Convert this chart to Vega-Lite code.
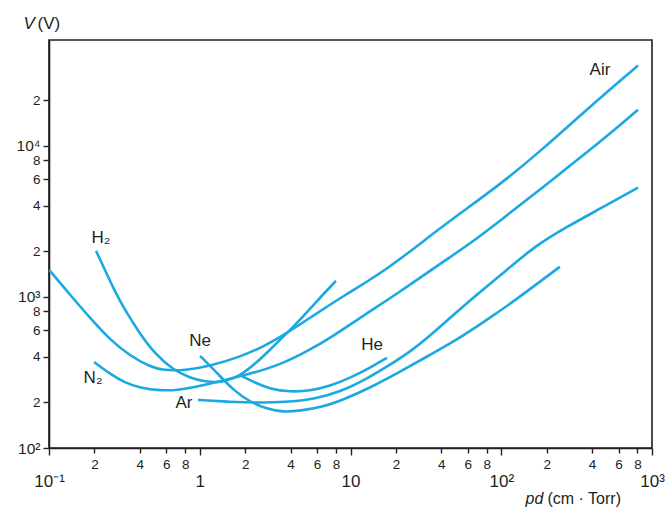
{
  "$schema": "https://vega.github.io/schema/vega-lite/v6.json",
  "width": 603,
  "height": 408,
  "autosize": "none",
  "padding": {"left": 49, "top": 40, "right": 15, "bottom": 59},
  "config": {
    "font": "Liberation Sans",
    "view": {"stroke": "#231f20", "strokeWidth": 1.6},
    "axis": {
      "grid": false,
      "domainColor": "#231f20",
      "domainWidth": 1.6,
      "tickColor": "#231f20",
      "tickWidth": 1.4,
      "labelColor": "#231f20",
      "titleColor": "#231f20",
      "titleFontWeight": "normal",
      "labelFlush": false,
      "labelOverlap": false,
      "labelBound": false
    }
  },
  "datasets": {
    "curves": [
      {"gas": "Air", "pd": 0.1, "V": 1510},
      {"gas": "Air", "pd": 0.138, "V": 1031},
      {"gas": "Air", "pd": 0.187, "V": 726},
      {"gas": "Air", "pd": 0.254, "V": 519},
      {"gas": "Air", "pd": 0.345, "V": 407},
      {"gas": "Air", "pd": 0.468, "V": 345},
      {"gas": "Air", "pd": 0.571, "V": 326},
      {"gas": "Air", "pd": 0.799, "V": 326},
      {"gas": "Air", "pd": 1.17, "V": 349},
      {"gas": "Air", "pd": 1.85, "V": 400},
      {"gas": "Air", "pd": 2.71, "V": 474},
      {"gas": "Air", "pd": 3.79, "V": 577},
      {"gas": "Air", "pd": 5.39, "V": 726},
      {"gas": "Air", "pd": 9.19, "V": 1031},
      {"gas": "Air", "pd": 17.5, "V": 1510},
      {"gas": "Air", "pd": 39.3, "V": 2864},
      {"gas": "Air", "pd": 98.1, "V": 5520},
      {"gas": "Air", "pd": 180.7, "V": 9130},
      {"gas": "Air", "pd": 388, "V": 18130},
      {"gas": "Air", "pd": 807, "V": 33880},
      {"gas": "N2", "pd": 0.199, "V": 371},
      {"gas": "N2", "pd": 0.254, "V": 309},
      {"gas": "N2", "pd": 0.319, "V": 270},
      {"gas": "N2", "pd": 0.401, "V": 250},
      {"gas": "N2", "pd": 0.545, "V": 239},
      {"gas": "N2", "pd": 0.74, "V": 242},
      {"gas": "N2", "pd": 1.004, "V": 257},
      {"gas": "N2", "pd": 1.405, "V": 278},
      {"gas": "N2", "pd": 2.154, "V": 309},
      {"gas": "N2", "pd": 3.41, "V": 355},
      {"gas": "N2", "pd": 5.39, "V": 446},
      {"gas": "N2", "pd": 7.89, "V": 560},
      {"gas": "N2", "pd": 11.56, "V": 726},
      {"gas": "N2", "pd": 21.3, "V": 1079},
      {"gas": "N2", "pd": 39.3, "V": 1654},
      {"gas": "N2", "pd": 62, "V": 2244},
      {"gas": "N2", "pd": 98.1, "V": 3187},
      {"gas": "N2", "pd": 180.7, "V": 5110},
      {"gas": "N2", "pd": 333, "V": 8327},
      {"gas": "N2", "pd": 526, "V": 12010},
      {"gas": "N2", "pd": 807, "V": 17310},
      {"gas": "H2", "pd": 0.205, "V": 2017},
      {"gas": "H2", "pd": 0.235, "V": 1510},
      {"gas": "H2", "pd": 0.274, "V": 1079},
      {"gas": "H2", "pd": 0.319, "V": 820},
      {"gas": "H2", "pd": 0.401, "V": 569},
      {"gas": "H2", "pd": 0.505, "V": 419},
      {"gas": "H2", "pd": 0.665, "V": 329},
      {"gas": "H2", "pd": 0.862, "V": 291},
      {"gas": "H2", "pd": 1.083, "V": 274},
      {"gas": "H2", "pd": 1.405, "V": 270},
      {"gas": "H2", "pd": 1.849, "V": 300},
      {"gas": "H2", "pd": 2.33, "V": 360},
      {"gas": "H2", "pd": 2.92, "V": 446},
      {"gas": "H2", "pd": 3.68, "V": 560},
      {"gas": "H2", "pd": 4.62, "V": 704},
      {"gas": "H2", "pd": 6.09, "V": 955},
      {"gas": "H2", "pd": 8.01, "V": 1276},
      {"gas": "Ne", "pd": 1.004, "V": 407},
      {"gas": "Ne", "pd": 1.302, "V": 314},
      {"gas": "Ne", "pd": 1.662, "V": 242},
      {"gas": "Ne", "pd": 2.154, "V": 202},
      {"gas": "Ne", "pd": 2.79, "V": 181},
      {"gas": "Ne", "pd": 3.57, "V": 173},
      {"gas": "Ne", "pd": 4.62, "V": 176},
      {"gas": "Ne", "pd": 6.57, "V": 187},
      {"gas": "Ne", "pd": 9.19, "V": 211},
      {"gas": "Ne", "pd": 13.47, "V": 250},
      {"gas": "Ne", "pd": 21.3, "V": 319},
      {"gas": "Ne", "pd": 33.7, "V": 413},
      {"gas": "Ne", "pd": 53.3, "V": 535},
      {"gas": "Ne", "pd": 84.2, "V": 726},
      {"gas": "Ne", "pd": 133.1, "V": 1000},
      {"gas": "Ne", "pd": 195.1, "V": 1336},
      {"gas": "Ne", "pd": 245, "V": 1580},
      {"gas": "He", "pd": 1.849, "V": 304},
      {"gas": "He", "pd": 2.33, "V": 270},
      {"gas": "He", "pd": 2.92, "V": 246},
      {"gas": "He", "pd": 3.97, "V": 235},
      {"gas": "He", "pd": 5.39, "V": 239},
      {"gas": "He", "pd": 7.31, "V": 257},
      {"gas": "He", "pd": 9.92, "V": 291},
      {"gas": "He", "pd": 13.47, "V": 339},
      {"gas": "He", "pd": 17.47, "V": 395},
      {"gas": "Ar", "pd": 0.974, "V": 208},
      {"gas": "Ar", "pd": 1.587, "V": 202},
      {"gas": "Ar", "pd": 2.51, "V": 199},
      {"gas": "Ar", "pd": 3.97, "V": 202},
      {"gas": "Ar", "pd": 5.81, "V": 211},
      {"gas": "Ar", "pd": 8.52, "V": 235},
      {"gas": "Ar", "pd": 12.48, "V": 282},
      {"gas": "Ar", "pd": 18.28, "V": 355},
      {"gas": "Ar", "pd": 24.8, "V": 432},
      {"gas": "Ar", "pd": 33.7, "V": 552},
      {"gas": "Ar", "pd": 59.3, "V": 913},
      {"gas": "Ar", "pd": 98.1, "V": 1378},
      {"gas": "Ar", "pd": 167.5, "V": 2176},
      {"gas": "Ar", "pd": 273, "V": 2908},
      {"gas": "Ar", "pd": 452, "V": 3826},
      {"gas": "Ar", "pd": 807, "V": 5272}
    ],
    "labels": [
      {"label": "Air", "pd": 452, "V": 31620},
      {"label": "H₂", "pd": 0.221, "V": 2459},
      {"label": "N₂", "pd": 0.196, "V": 291},
      {"label": "Ne", "pd": 1.004, "V": 511},
      {"label": "Ar", "pd": 0.786, "V": 199},
      {"label": "He", "pd": 13.9, "V": 481}
    ]
  },
  "layer": [
    {
      "data": {"name": "curves"},
      "mark": {"type": "line", "color": "#1ba9e1", "strokeWidth": 2.6, "interpolate": "basis", "clip": true},
      "encoding": {
        "x": {
          "field": "pd", "type": "quantitative",
          "scale": {"type": "log", "domain": [0.1, 1000], "nice": false},
          "axis": {
            "orient": "bottom",
            "values": [0.1, 0.2, 0.4, 0.6, 0.8, 1, 2, 4, 6, 8, 10, 20, 40, 60, 80, 100, 200, 400, 600, 800, 1000],
            "labelExpr": "abs(log(datum.value)/LN10 - round(log(datum.value)/LN10)) < 1e-6 ? (datum.value < 0.5 ? '10⁻¹' : datum.value < 5 ? '1' : datum.value < 50 ? '10' : datum.value < 500 ? '10²' : '10³') : format(round(datum.value / pow(10, floor(log(datum.value)/LN10 + 1e-9))), 'd')",
            "labelFontSize": {"condition": {"test": "abs(log(datum.value)/LN10 - round(log(datum.value)/LN10)) < 1e-6", "value": 17}, "value": 13.5},
            "labelPadding": {"condition": {"test": "abs(log(datum.value)/LN10 - round(log(datum.value)/LN10)) < 1e-6", "value": 18}, "value": 4},
            "tickSize": {"condition": {"test": "abs(log(datum.value)/LN10 - round(log(datum.value)/LN10)) < 1e-6", "value": 7}, "value": 5},
            "title": "pd",
            "titleFontStyle": "italic",
            "titleFontSize": 16,
            "titleAlign": "left",
            "titleBaseline": "alphabetic",
            "titleAnchor": null,
            "titleX": 476,
            "titleY": 55
          }
        },
        "y": {
          "field": "V", "type": "quantitative",
          "scale": {"type": "log", "domain": [100, 50000], "nice": false},
          "axis": {
            "orient": "left",
            "values": [100, 200, 400, 600, 800, 1000, 2000, 4000, 6000, 8000, 10000, 20000],
            "labelExpr": "abs(log(datum.value)/LN10 - round(log(datum.value)/LN10)) < 1e-6 ? (datum.value < 500 ? '10²' : datum.value < 5000 ? '10³' : '10⁴') : format(round(datum.value / pow(10, floor(log(datum.value)/LN10 + 1e-9))), 'd')",
            "labelFontSize": {"condition": {"test": "abs(log(datum.value)/LN10 - round(log(datum.value)/LN10)) < 1e-6", "value": 15.5}, "value": 13.5},
            "labelBaseline": "middle",
            "labelPadding": 3,
            "tickSize": 6,
            "title": "V",
            "titleFontStyle": "italic",
            "titleFontSize": 17,
            "titleAngle": 0,
            "titleAlign": "left",
            "titleBaseline": "alphabetic",
            "titleAnchor": null,
            "titleX": -26,
            "titleY": -12
          }
        },
        "detail": {"field": "gas"}
      }
    },
    {
      "data": {"name": "labels"},
      "mark": {"type": "text", "fontSize": 17, "color": "#231f20", "align": "center", "baseline": "middle"},
      "encoding": {
        "x": {
          "field": "pd", "type": "quantitative",
          "scale": {"type": "log", "domain": [0.1, 1000], "nice": false},
          "axis": {
            "orient": "bottom", "labels": false, "ticks": false, "domain": false,
            "title": "(cm · Torr)", "titleFontSize": 16, "titleFontStyle": "normal",
            "titleAlign": "left", "titleBaseline": "alphabetic", "titleAnchor": null,
            "titleX": 498, "titleY": 55
          }
        },
        "y": {
          "field": "V", "type": "quantitative",
          "scale": {"type": "log", "domain": [100, 50000], "nice": false},
          "axis": {
            "orient": "left", "labels": false, "ticks": false, "domain": false,
            "title": "(V)", "titleFontSize": 17, "titleFontStyle": "normal", "titleAngle": 0,
            "titleAlign": "left", "titleBaseline": "alphabetic", "titleAnchor": null,
            "titleX": -12, "titleY": -12
          }
        },
        "text": {"field": "label"}
      }
    }
  ],
  "resolve": {"axis": {"x": "independent", "y": "independent"}}
}
